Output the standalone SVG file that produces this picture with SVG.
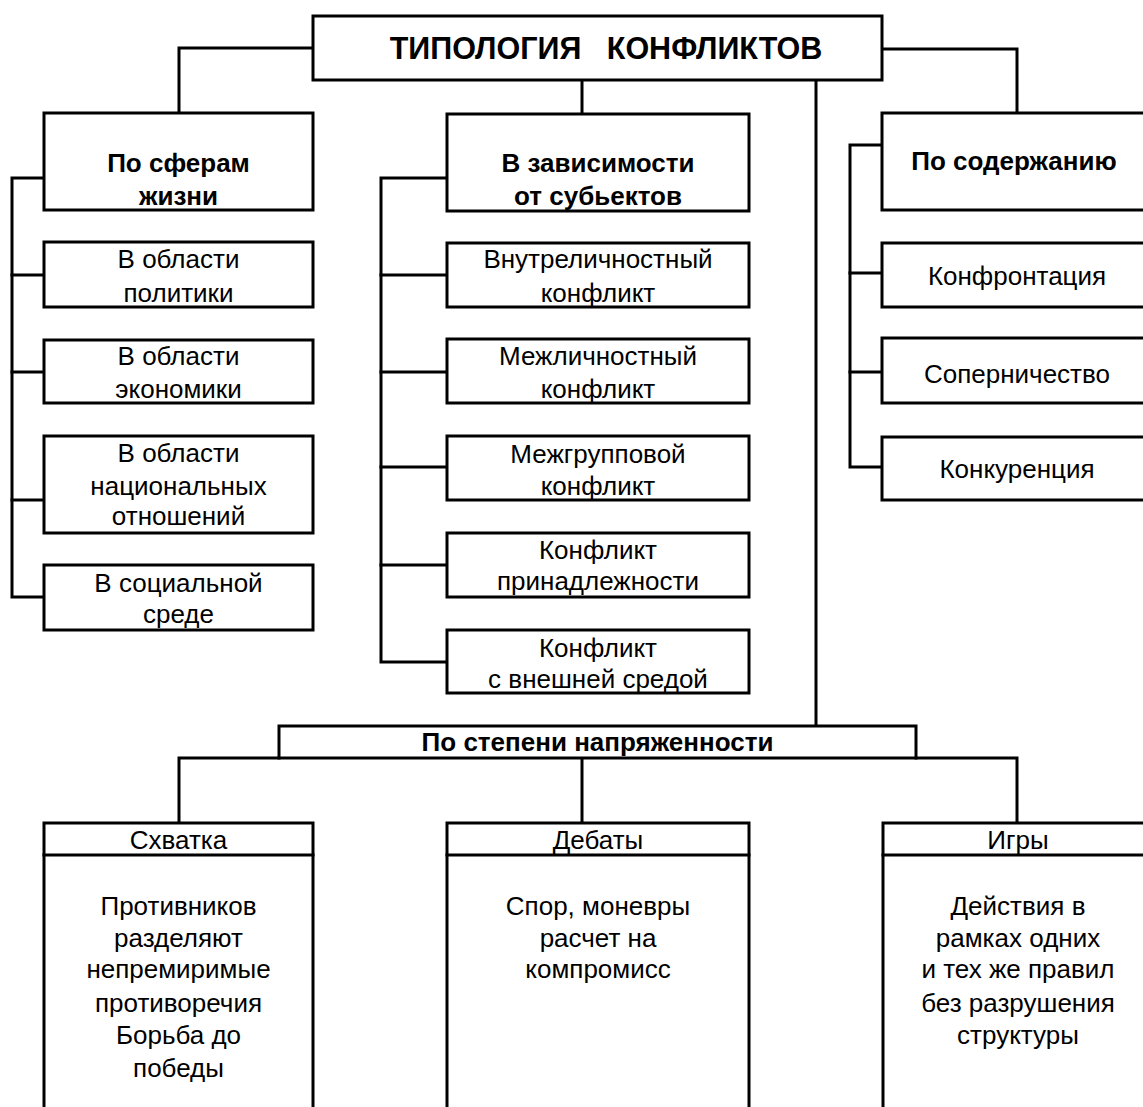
<svg xmlns="http://www.w3.org/2000/svg" width="1143" height="1107" viewBox="0 0 1143 1107">
<style>
  .box { fill: #ffffff; stroke: #000000; stroke-width: 3; }
  .ln { fill: none; stroke: #000000; stroke-width: 3; stroke-linecap: square; }
  text { font-family: "Liberation Sans", Arial, sans-serif; font-size: 26px; fill: #000000; text-anchor: middle; }
  .b { font-weight: bold; }
  .title { font-weight: bold; font-size: 30.5px; }
</style>
<rect width="1143" height="1107" fill="#ffffff"/>
<g id="connectors">
  <polyline class="ln" points="313,48 179,48 179,113"/>
  <line class="ln" x1="582" y1="80" x2="582" y2="114"/>
  <polyline class="ln" points="882,49 1017,49 1017,113"/>
  <line class="ln" x1="816" y1="80" x2="816" y2="726"/>
  <polyline class="ln" points="44,178 12,178 12,597 44,597"/>
  <line class="ln" x1="12" y1="275" x2="44" y2="275"/>
  <line class="ln" x1="12" y1="372" x2="44" y2="372"/>
  <line class="ln" x1="12" y1="500" x2="44" y2="500"/>
  <polyline class="ln" points="447,178 381,178 381,662 447,662"/>
  <line class="ln" x1="381" y1="275" x2="447" y2="275"/>
  <line class="ln" x1="381" y1="372" x2="447" y2="372"/>
  <line class="ln" x1="381" y1="467" x2="447" y2="467"/>
  <line class="ln" x1="381" y1="565" x2="447" y2="565"/>
  <polyline class="ln" points="882,145 850,145 850,467 882,467"/>
  <line class="ln" x1="850" y1="273" x2="882" y2="273"/>
  <line class="ln" x1="850" y1="372" x2="882" y2="372"/>
  <polyline class="ln" points="279,758 179,758 179,823"/>
  <line class="ln" x1="582" y1="758" x2="582" y2="823"/>
  <polyline class="ln" points="916,758 1017,758 1017,823"/>
</g>
<g id="title">
  <rect class="box" x="313" y="16" width="569" height="64"/>
  <text class="title" x="606" y="59" xml:space="preserve">ТИПОЛОГИЯ   КОНФЛИКТОВ</text>
</g>
<g id="po-sferam">
  <rect class="box" x="44" y="113" width="269" height="97"/>
  <text class="b" x="178.5" y="171.5">По сферам</text>
  <text class="b" x="178.5" y="204.5">жизни</text>
</g>
<g id="politika">
  <rect class="box" x="44" y="242" width="269" height="65"/>
  <text x="178.5" y="267.5">В области</text>
  <text x="178.5" y="301.5">политики</text>
</g>
<g id="ekonomika">
  <rect class="box" x="44" y="340" width="269" height="63"/>
  <text x="178.5" y="364.5">В области</text>
  <text x="178.5" y="397.5">экономики</text>
</g>
<g id="nacionalnye">
  <rect class="box" x="44" y="436" width="269" height="97"/>
  <text x="178.5" y="461.5">В области</text>
  <text x="178.5" y="494.5">национальных</text>
  <text x="178.5" y="524.5">отношений</text>
</g>
<g id="socialnaya">
  <rect class="box" x="44" y="565" width="269" height="65"/>
  <text x="178.5" y="591.5">В социальной</text>
  <text x="178.5" y="622.5">среде</text>
</g>
<g id="subekty">
  <rect class="box" x="447" y="114" width="302" height="97"/>
  <text class="b" x="598" y="171.5">В зависимости</text>
  <text class="b" x="598" y="204.5">от субьектов</text>
</g>
<g id="vnutrilichnostny">
  <rect class="box" x="447" y="243" width="302" height="64"/>
  <text x="598" y="267.5">Внутреличностный</text>
  <text x="598" y="301.5">конфликт</text>
</g>
<g id="mezhlichnostny">
  <rect class="box" x="447" y="339" width="302" height="64"/>
  <text x="598" y="364.5">Межличностный</text>
  <text x="598" y="397.5">конфликт</text>
</g>
<g id="mezhgruppovoy">
  <rect class="box" x="447" y="436" width="302" height="64"/>
  <text x="598" y="462.5">Межгрупповой</text>
  <text x="598" y="494.5">конфликт</text>
</g>
<g id="prinadlezhnost">
  <rect class="box" x="447" y="533" width="302" height="64"/>
  <text x="598" y="558.5">Конфликт</text>
  <text x="598" y="589.5">принадлежности</text>
</g>
<g id="vneshnyaya-sreda">
  <rect class="box" x="447" y="630" width="302" height="63"/>
  <text x="598" y="656.5">Конфликт</text>
  <text x="598" y="687.5">с внешней средой</text>
</g>
<g id="po-soderzhaniyu">
  <rect class="box" x="882" y="113" width="270" height="97"/>
  <text class="b" x="1014" y="169.5">По содержанию</text>
</g>
<g id="konfrontaciya">
  <rect class="box" x="882" y="243" width="270" height="64"/>
  <text x="1017" y="284.5">Конфронтация</text>
</g>
<g id="sopernichestvo">
  <rect class="box" x="882" y="338" width="270" height="65"/>
  <text x="1017" y="382.5">Соперничество</text>
</g>
<g id="konkurenciya">
  <rect class="box" x="882" y="437" width="270" height="63"/>
  <text x="1017" y="477.5">Конкуренция</text>
</g>
<g id="napryazhennost">
  <rect class="box" x="279" y="726" width="637" height="32"/>
  <text class="b" x="597.5" y="751">По степени напряженности</text>
</g>
<g id="skhvatka">
  <rect class="box" x="44" y="823" width="269" height="300"/>
  <line class="ln" x1="44" y1="855" x2="313" y2="855"/>
  <text x="178.5" y="848.5">Схватка</text>
  <text x="178.5" y="914.5">Противников</text>
  <text x="178.5" y="946.5">разделяют</text>
  <text x="178.5" y="977.5">непремиримые</text>
  <text x="178.5" y="1011.5">противоречия</text>
  <text x="178.5" y="1043.5">Борьба до</text>
  <text x="178.5" y="1076.5">победы</text>
</g>
<g id="debaty">
  <rect class="box" x="447" y="823" width="302" height="300"/>
  <line class="ln" x1="447" y1="855" x2="749" y2="855"/>
  <text x="598" y="848.5">Дебаты</text>
  <text x="598" y="914.5">Спор, моневры</text>
  <text x="598" y="946.5">расчет на</text>
  <text x="598" y="977.5">компромисс</text>
</g>
<g id="igry">
  <rect class="box" x="883" y="823" width="270" height="300"/>
  <line class="ln" x1="883" y1="855" x2="1153" y2="855"/>
  <text x="1018" y="848.5">Игры</text>
  <text x="1018" y="914.5">Действия в</text>
  <text x="1018" y="946.5">рамках одних</text>
  <text x="1018" y="977.5">и тех же правил</text>
  <text x="1018" y="1011.5">без разрушения</text>
  <text x="1018" y="1043.5">структуры</text>
</g>
</svg>
